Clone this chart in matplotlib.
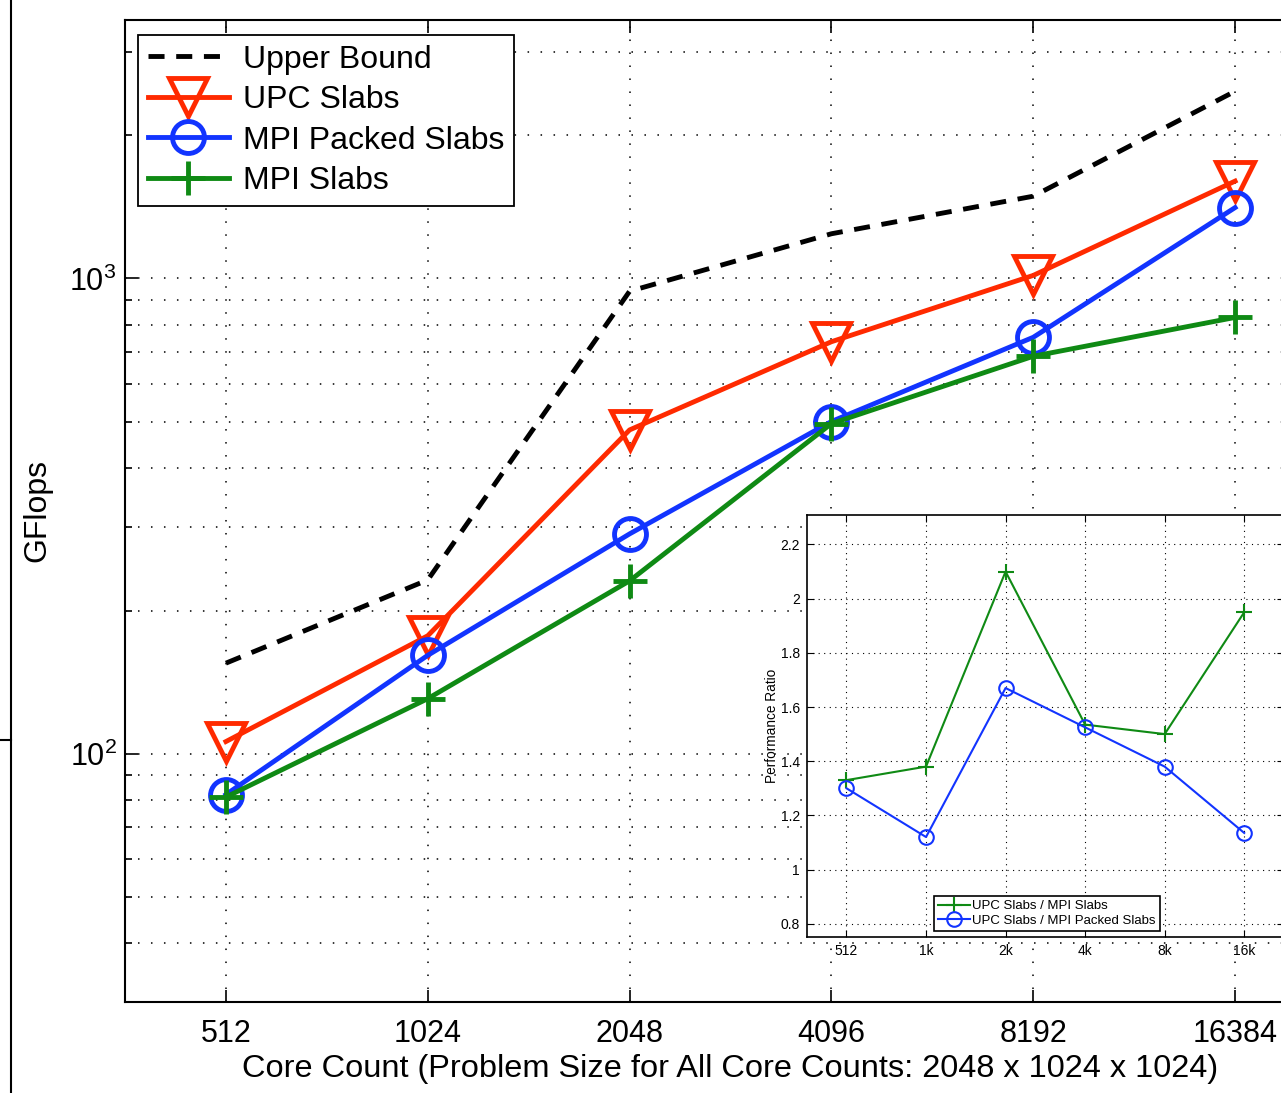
import numpy as np
import matplotlib.pyplot as plt
from matplotlib.lines import Line2D
from matplotlib.ticker import FixedLocator, FuncFormatter, NullFormatter, LogLocator

plt.rcParams['font.family'] = ['Liberation Sans', 'DejaVu Sans']

# main plot data (GFlops)
cores = [512, 1024, 2048, 4096, 8192, 16384]
core_labels = ['512', '1024', '2048', '4096', '8192', '16384']
upper_bound = [155, 232, 940, 1242, 1490, 2478]
upc_slabs = [106, 177, 480, 736, 1015, 1603]
mpi_packed = [82, 161, 290, 500, 752, 1410]
mpi_slabs = [81, 130.5, 231, 495, 686, 828]

# inset data (performance ratio)
inset_labels = ['512', '1k', '2k', '4k', '8k', '16k']
ratio_slabs = [1.33, 1.38, 2.10, 1.535, 1.50, 1.95]
ratio_packed = [1.30, 1.12, 1.67, 1.525, 1.38, 1.135]

red = '#ff2a00'
blue = '#1234ff'
green = '#0f8a14'
grid_ls = (0, (1, 7.5))

W, H = 1281, 1093
fig = plt.figure(figsize=(W / 100, H / 100), dpi=100)

# main axes (right edge runs past the figure, like the reference crop)
ax = fig.add_axes([125 / W, 1 - 1002 / H, 1211 / W, 982 / H])
ax.set_xscale('log', base=2)
ax.set_yscale('log')
ax.set_xlim(2 ** 8.5, 2 ** 14.5)
ax.set_ylim(30, 3500)

ax.plot(cores, upper_bound, '--', color='black', lw=3.5, dashes=(3.3, 2.4),
        label='Upper Bound')
ax.plot(cores, upc_slabs, '-v', color=red, lw=3.5, ms=27, mfc='none', mew=3.5,
        label='UPC Slabs')
ax.plot(cores, mpi_packed, '-o', color=blue, lw=3.5, ms=23, mfc='none', mew=3.5,
        label='MPI Packed Slabs')
ax.plot(cores, mpi_slabs, '-+', color=green, lw=3.5, ms=24, mew=3.5,
        label='MPI Slabs')

ax.xaxis.set_major_locator(FixedLocator(cores))
ax.xaxis.set_minor_locator(FixedLocator([]))
ax.set_xticklabels(core_labels)
ax.yaxis.set_major_locator(FixedLocator([100, 1000]))
ax.yaxis.set_minor_locator(LogLocator(base=10, subs=np.arange(2, 10)))
ax.yaxis.set_major_formatter(FuncFormatter(lambda v, p: r'$\mathregular{10^{%d}}$' % round(np.log10(v))))
ax.yaxis.set_minor_formatter(NullFormatter())
ax.tick_params(which='both', direction='in', top=True, right=True, width=1.2)
ax.tick_params(which='major', length=9, labelsize=22, pad=6)
ax.tick_params(axis='x', which='major', pad=12)
ax.tick_params(which='minor', length=5)
ax.grid(True, which='both', axis='y', color='black', ls=grid_ls, lw=1.1)
ax.grid(True, which='major', axis='x', color='black', ls=grid_ls, lw=1.1)
for s in ax.spines.values():
    s.set_linewidth(1.5)

ax.set_xlabel('Core Count (Problem Size for All Core Counts: 2048 x 1024 x 1024)',
              fontsize=23.4, labelpad=4)
ax.set_ylabel('GFlops', fontsize=23, labelpad=12)

leg = ax.legend(loc='upper left', bbox_to_anchor=(138 / W, 1 - 35 / H),
                bbox_transform=fig.transFigure, borderaxespad=0, fontsize=23,
                handlelength=2.55, handletextpad=0.45, labelspacing=0.33,
                borderpad=0.3, fancybox=False, framealpha=1, edgecolor='black')
leg.get_frame().set_linewidth(1.3)

# inset axes
ins = fig.add_axes([806.7 / W, 1 - 936.7 / H, 477.3 / W, 422 / H])
ins.set_xscale('log', base=2)
ins.set_xlim(2 ** 8.5, 2 ** 14.5)
ins.set_ylim(0.752, 2.31)
ins.plot(cores, ratio_slabs, '-+', color=green, lw=1.5, ms=11, mew=1.5,
         label='UPC Slabs / MPI Slabs')
ins.plot(cores, ratio_packed, '-o', color=blue, lw=1.5, ms=10.5, mfc='none', mew=1.5,
         label='UPC Slabs / MPI Packed Slabs')
ins.xaxis.set_major_locator(FixedLocator(cores))
ins.xaxis.set_minor_locator(FixedLocator([]))
ins.set_xticklabels(inset_labels)
ins.set_yticks([0.8, 1.0, 1.2, 1.4, 1.6, 1.8, 2.0, 2.2])
ins.set_yticklabels(['0.8', '1', '1.2', '1.4', '1.6', '1.8', '2', '2.2'])
ins.tick_params(direction='in', top=True, right=True, length=5, labelsize=10, pad=5)
ins.grid(True, color='black', ls=(0, (1, 4)), lw=0.8)
for s in ins.spines.values():
    s.set_linewidth(1.2)
ins.set_ylabel('Performance Ratio', fontsize=9.8, labelpad=1)
ileg = ins.legend(loc='lower left', bbox_to_anchor=(934 / W, 1 - 931 / H),
                  bbox_transform=fig.transFigure, borderaxespad=0, fontsize=9.5,
                  handlelength=2.4, handletextpad=0.2, labelspacing=0.2,
                  borderpad=0.3, fancybox=False, framealpha=1, edgecolor='black')
ileg.get_frame().set_linewidth(1.2)

# stray frame edge at the far left of the reference image
fig.add_artist(Line2D([11 / W, 11 / W], [0, 1], color='black', lw=1.5))
fig.add_artist(Line2D([0, 11 / W], [1 - 740 / H, 1 - 740 / H], color='black', lw=1.5))

fig.savefig('out.png', dpi=100)
